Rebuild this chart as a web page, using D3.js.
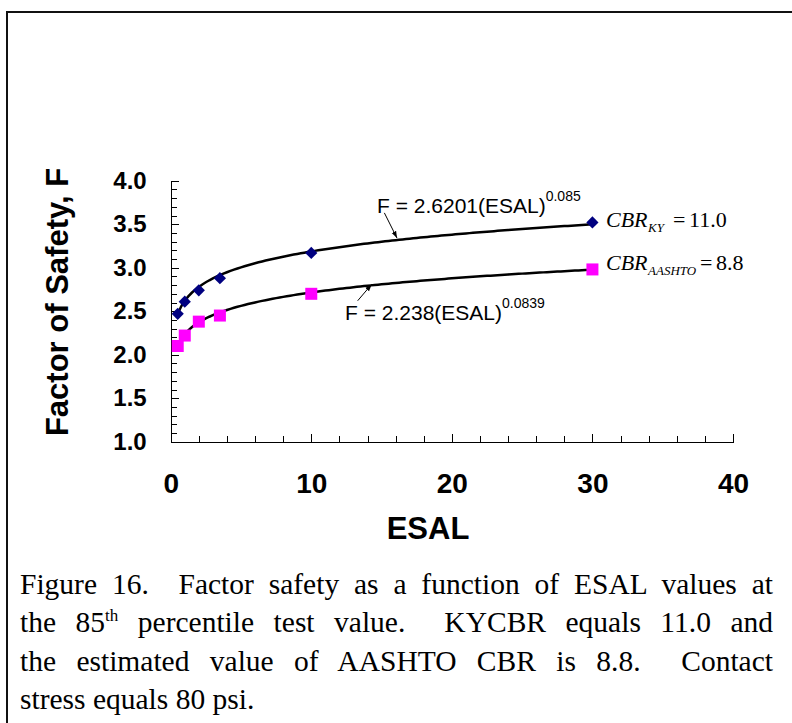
<!DOCTYPE html>
<html>
<head>
<meta charset="utf-8">
<script src="https://cdn.jsdelivr.net/npm/d3@7"></script>
<style>
	body { margin: 0; background: #fff; }
	svg { display: block; }
	.axis path, .axis line { stroke: #000; shape-rendering: crispEdges; }
	.axis text { fill: #000; font-family: "Liberation Sans", Arial, sans-serif; font-weight: bold; }
</style>
</head>
<body>
<div id="chart"></div>
<script>
/*global d3*/

//data
var esal = [0.5, 1, 2, 3.5, 10, 30];
var factorKY = [2.47, 2.61, 2.74, 2.88, 3.17, 3.52];
var factorAASHTO = [2.10, 2.22, 2.38, 2.45, 2.70, 2.98];

//power trendlines F = a * ESAL^b, as printed on the chart
var trendKY = [2.6201, 0.085];
var trendAASHTO = [2.238, 0.0839];

var xTicks = [0, 10, 20, 30, 40];
var yTicks = [1.0, 1.5, 2.0, 2.5, 3.0, 3.5, 4.0];
var yTickLabels = ["1.0", "1.5", "2.0", "2.5", "3.0", "3.5", "4.0"];

var captionLines = [
	"Figure 16.  Factor safety as a function of ESAL values at",
	"the 85|th| percentile test value.  KYCBR equals 11.0 and",
	"the estimated value of AASHTO CBR is 8.8.  Contact",
	"stress equals 80 psi."
];

var width = 792, height = 723;

var svg = d3.select("#chart").append("svg")
	.attr("width", width)
	.attr("height", height);

//outer frame, open on right and bottom like the page crop
svg.append("rect")
	.attr("x", 7).attr("y", 12)
	.attr("width", 820).attr("height", 760)
	.attr("fill", "none")
	.attr("stroke", "#111")
	.attr("stroke-width", 2);

//scales
var x = d3.scaleLinear().domain([0, 40]).range([170.7, 733]);
var y = d3.scaleLinear().domain([1, 4]).range([441.7, 180.7]);

//x axis, ticks pointing up
var xMinor = d3.axisBottom(x).tickValues(d3.range(0, 41, 2)).tickFormat("").tickSize(-6).tickSizeOuter(0);
svg.append("g").attr("class", "axis")
	.attr("transform", "translate(0," + y(1) + ")")
	.call(xMinor);
var xAxis = d3.axisBottom(x).tickValues(xTicks).tickFormat(d3.format("d")).tickSize(-8).tickSizeOuter(0).tickPadding(31);
svg.append("g").attr("class", "axis")
	.attr("transform", "translate(0," + y(1) + ")")
	.call(xAxis)
	.selectAll("text").style("font-size", "28px");

//y axis, ticks pointing right
var yMinor = d3.axisLeft(y).tickValues(d3.range(10, 41, 1).map(function(d){ return d / 10; })).tickFormat("").tickSize(-6).tickSizeOuter(0);
svg.append("g").attr("class", "axis")
	.attr("transform", "translate(" + x(0) + ",0)")
	.call(yMinor);
var yAxis = d3.axisLeft(y).tickValues(yTicks).tickFormat(function(d, i){ return yTickLabels[i]; }).tickSize(-8).tickSizeOuter(0).tickPadding(24);
svg.append("g").attr("class", "axis")
	.attr("transform", "translate(" + x(0) + ",0)")
	.call(yAxis)
	.selectAll("text").style("font-size", "24px");

//axis titles
svg.append("text")
	.attr("x", 428).attr("y", 539)
	.attr("text-anchor", "middle")
	.style("font-family", "'Liberation Sans', Arial, sans-serif")
	.style("font-weight", "bold")
	.style("font-size", "31px")
	.text("ESAL");

svg.append("text")
	.attr("transform", "translate(68,302) rotate(-90)")
	.attr("text-anchor", "middle")
	.style("font-family", "'Liberation Sans', Arial, sans-serif")
	.style("font-weight", "bold")
	.style("font-size", "31px")
	.text("Factor of Safety, F");

//trendlines
var line = d3.line()
	.x(function(d){ return x(d[0]); })
	.y(function(d){ return y(d[1]); });

function trendPoints(coef){
	var pts = [];
	var xs = d3.range(0.5, 30.001, 0.25);
	for(var i = 0; i < xs.length; i++){
		pts.push([xs[i], coef[0] * Math.pow(xs[i], coef[1])]);
	}
	return pts;
}

[trendKY, trendAASHTO].forEach(function(coef){
	svg.append("path")
		.attr("d", line(trendPoints(coef)))
		.attr("fill", "none")
		.attr("stroke", "#000")
		.attr("stroke-width", 2.5);
});

//markers
var kyData = esal.map(function(d, i){ return [d, factorKY[i]]; });
var aashtoData = esal.map(function(d, i){ return [d, factorAASHTO[i]]; });

svg.append("g").selectAll("path").data(kyData).enter().append("path")
	.attr("transform", function(d){ return "translate(" + x(d[0]) + "," + y(d[1]) + ")"; })
	.attr("d", d3.symbol().type(d3.symbolDiamond2).size(95))
	.attr("fill", "#000080");

svg.append("g").selectAll("rect").data(aashtoData).enter().append("rect")
	.attr("x", function(d){ return x(d[0]) - 6; })
	.attr("y", function(d){ return y(d[1]) - 6; })
	.attr("width", 12)
	.attr("height", 12)
	.attr("fill", "#ff00ff");

//equation labels with arrows
var defs = svg.append("defs");
defs.append("marker")
	.attr("id", "arrow")
	.attr("viewBox", "0 0 10 10")
	.attr("refX", 10).attr("refY", 5)
	.attr("markerWidth", 7).attr("markerHeight", 7)
	.attr("orient", "auto")
	.append("path")
	.attr("d", "M0,1.5L10,5L0,8.5Z")
	.attr("fill", "#000");

function equation(tx, ty, main, sup){
	var t = svg.append("text")
		.attr("x", tx).attr("y", ty)
		.style("font-family", "'Liberation Sans', Arial, sans-serif")
		.style("font-size", "21px");
	t.append("tspan").text(main);
	t.append("tspan").attr("dy", -12).style("font-size", "14px").text(sup);
}

equation(377, 213, "F = 2.6201(ESAL)", "0.085");
equation(345, 320, "F = 2.238(ESAL)", "0.0839");

svg.append("line")
	.attr("x1", x(15.2)).attr("y1", y(3.63))
	.attr("x2", x(16.1)).attr("y2", y(3.34))
	.attr("stroke", "#000").attr("stroke-width", 1)
	.attr("marker-end", "url(#arrow)");

svg.append("line")
	.attr("x1", x(13.3)).attr("y1", y(2.62))
	.attr("x2", x(14.3)).attr("y2", y(2.81))
	.attr("stroke", "#000").attr("stroke-width", 1)
	.attr("marker-end", "url(#arrow)");

//CBR labels
function cbrLabel(tx, ty, sub, eqX, value){
	var g = svg.append("g").style("font-family", "'Liberation Serif', 'Times New Roman', serif");
	g.append("text").attr("x", tx).attr("y", ty)
		.style("font-size", "22px").style("font-style", "italic").text("CBR");
	g.append("text").attr("x", tx + 42).attr("y", ty + 5)
		.style("font-size", "13px").style("font-style", "italic").text(sub);
	g.append("text").attr("x", eqX).attr("y", ty)
		.style("font-size", "22px").text("=");
	g.append("text").attr("x", eqX + 16).attr("y", ty)
		.style("font-size", "22px").text(value);
}
cbrLabel(606, 227, "KY", 673, "11.0");
cbrLabel(606, 270, "AASHTO", 700, "8.8");

//caption, justified between left and right margins
var capLeft = 20, capRight = 773;
var capBase = [594, 632, 671, 709];

captionLines.forEach(function(txt, i){
	var t = svg.append("text")
		.attr("x", capLeft).attr("y", capBase[i])
		.style("font-family", "'Liberation Serif', 'Times New Roman', serif")
		.style("font-size", "29.5px")
		.style("white-space", "pre");
	var parts = txt.split("|");
	if(parts.length === 3){
		t.append("tspan").text(parts[0]);
		t.append("tspan").attr("dy", -11).style("font-size", "17px").text(parts[1]);
		t.append("tspan").attr("dy", 11).text(parts[2]);
	}
	else{
		t.text(txt);
	}
	if(i < captionLines.length - 1){
		var natural = t.node().getComputedTextLength();
		var spaces = txt.split(" ").length - 1;
		var extra = (capRight - capLeft - natural) / spaces;
		t.style("word-spacing", extra + "px");
	}
});
</script>
</body>
</html>
